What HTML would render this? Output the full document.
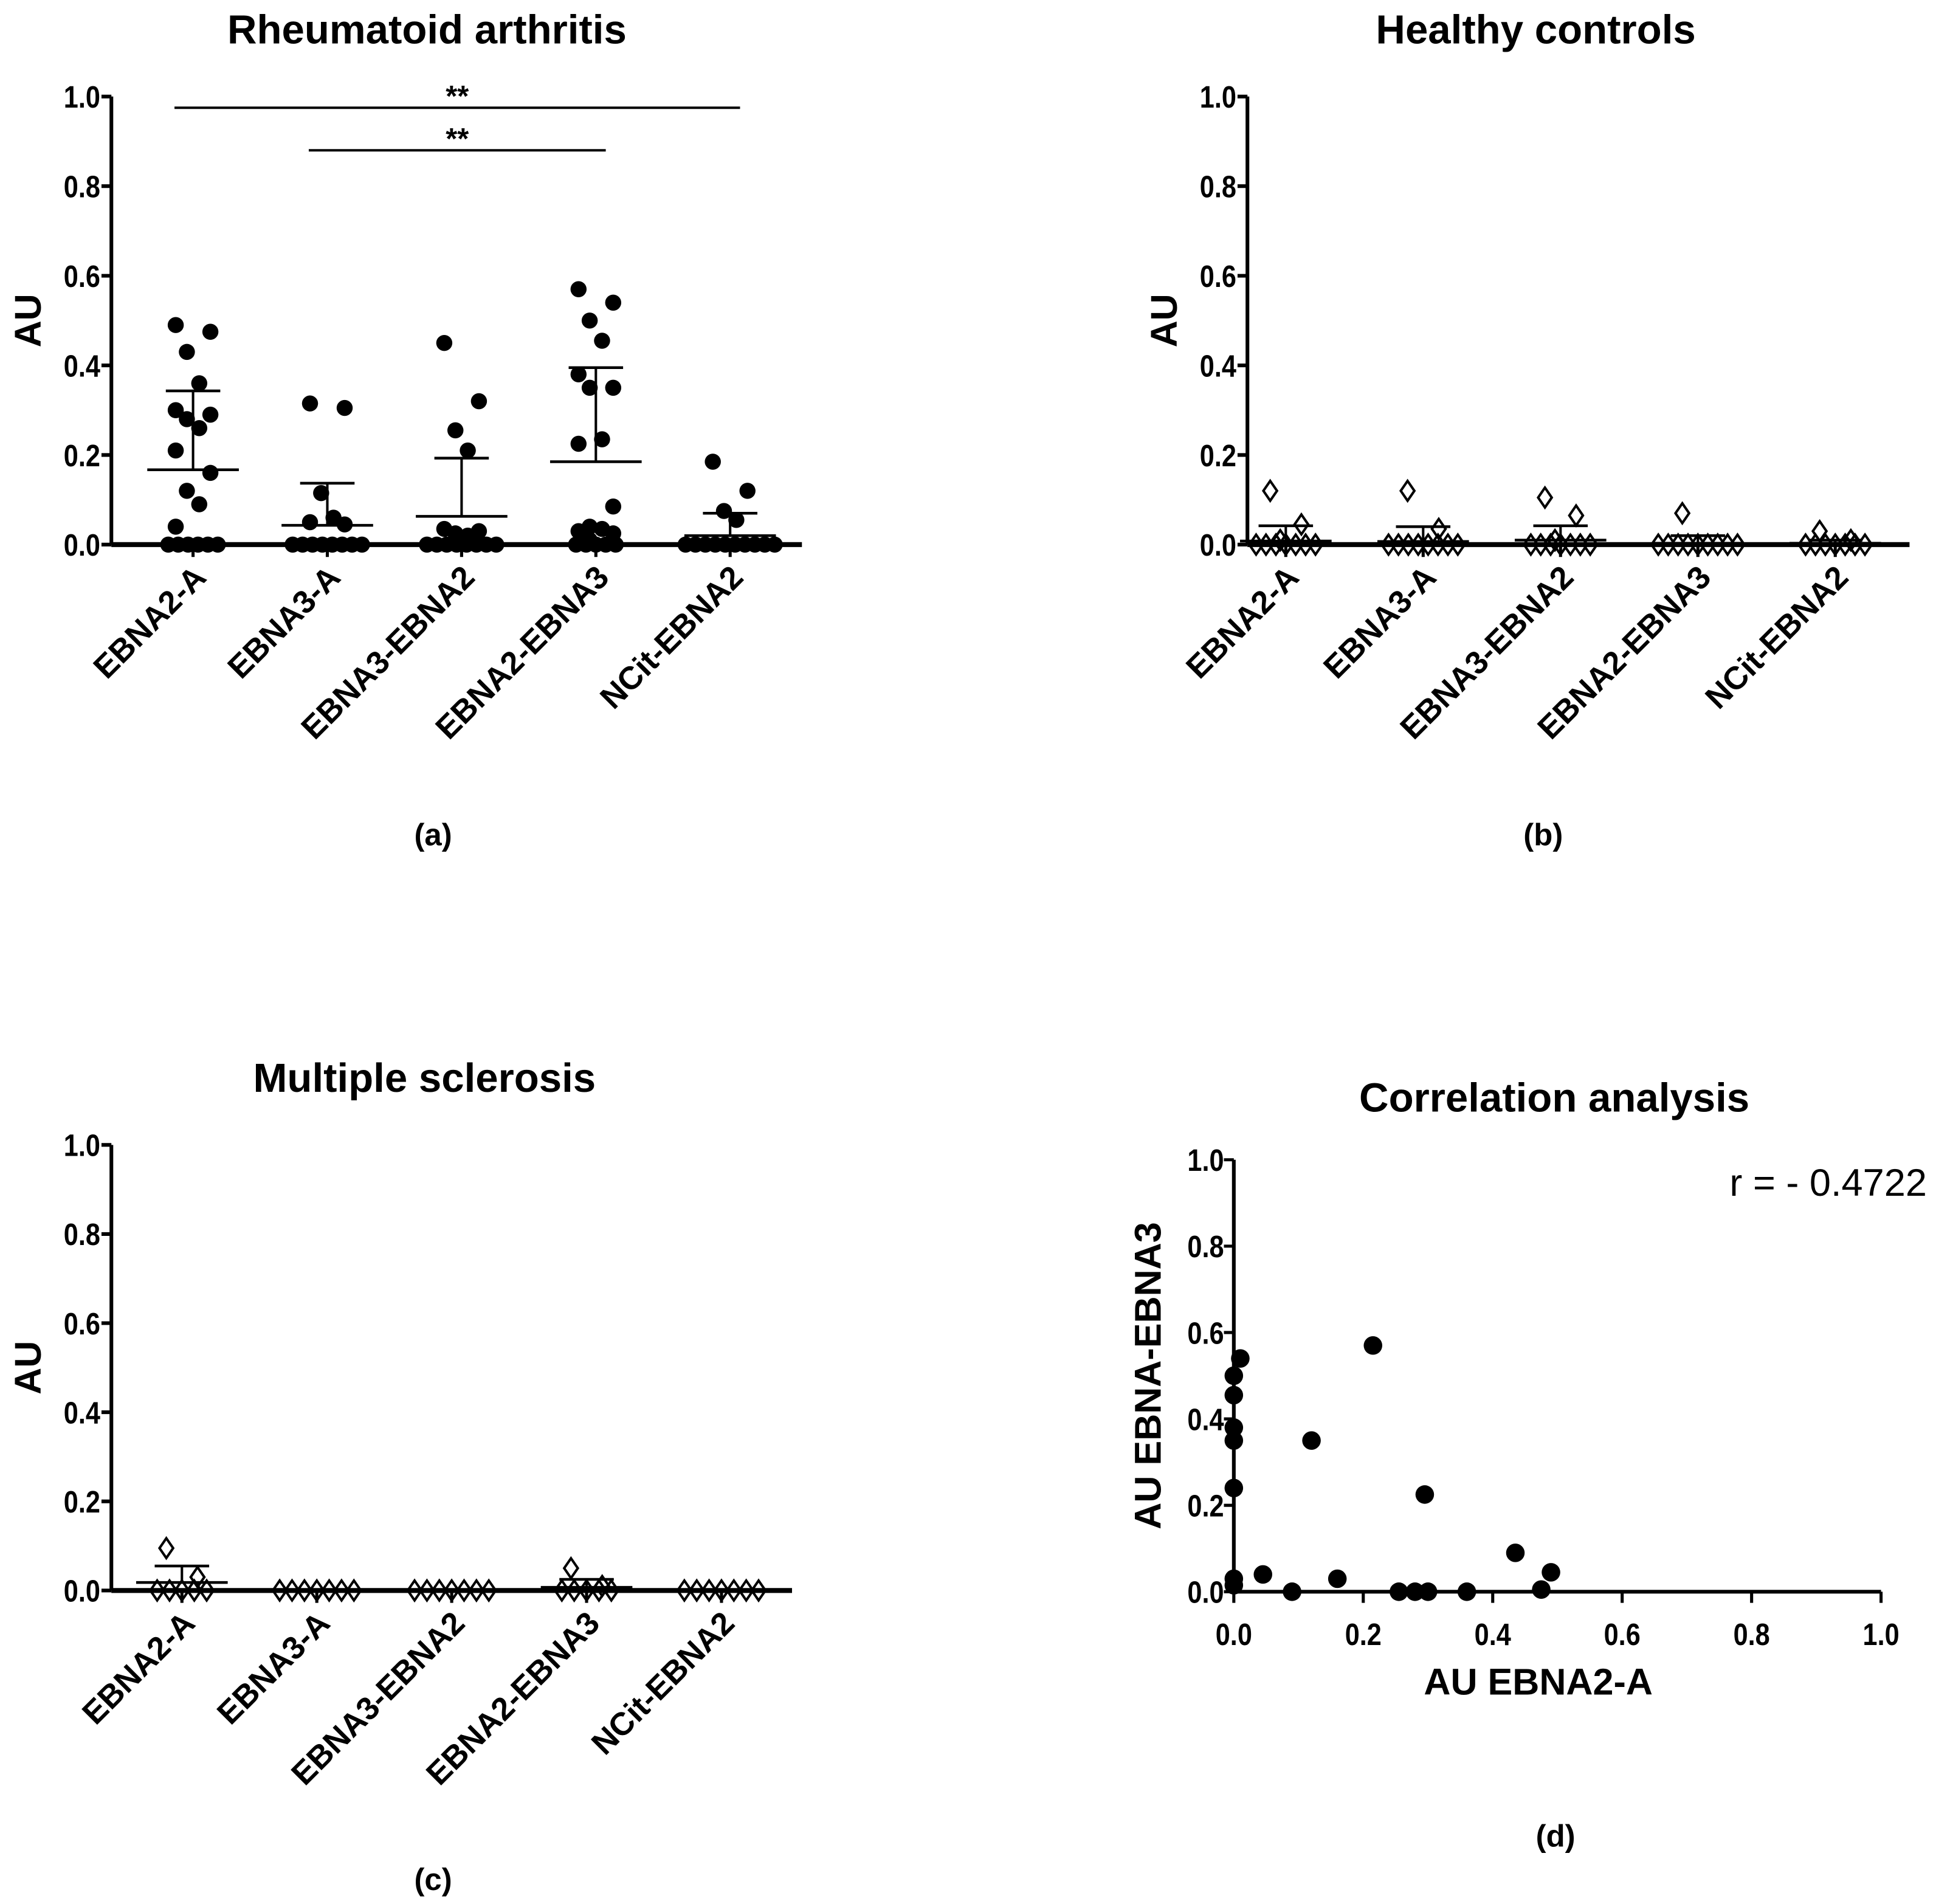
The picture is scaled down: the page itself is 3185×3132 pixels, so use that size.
<!DOCTYPE html>
<html><head><meta charset="utf-8">
<style>
html,body{margin:0;padding:0;background:#fff;}
svg{display:block;}
text{font-family:"Liberation Sans",Arial,sans-serif;font-weight:bold;fill:#000;}
</style></head>
<body>
<svg id="fig" xmlns="http://www.w3.org/2000/svg" width="3185" height="3132" viewBox="0 0 1564.4 1538.3" preserveAspectRatio="none">
</svg>
<script>
const categories = ["EBNA2-A","EBNA3-A","EBNA3-EBNA2","EBNA2-EBNA3","NCit-EBNA2"];
const yTicks = [0.0,0.2,0.4,0.6,0.8,1.0];
const yTickLabels = ["0.0","0.2","0.4","0.6","0.8","1.0"];
// Panel a: rheumatoid arthritis
const raValues = [
 [0.49,0.475,0.43,0.36,0.30,0.29,0.28,0.26,0.21,0.16,0.12,0.09,0.04,0,0,0,0,0,0],
 [0.315,0.305,0.115,0.06,0.05,0.045,0,0,0,0,0,0,0,0],
 [0.45,0.32,0.255,0.21,0.035,0.03,0.025,0.02,0,0,0,0,0,0,0,0],
 [0.57,0.54,0.50,0.455,0.38,0.35,0.35,0.235,0.225,0.085,0.04,0.035,0.03,0.025,0.01,0,0,0,0,0],
 [0.185,0.12,0.075,0.055,0,0,0,0,0,0,0,0,0,0]
];
const raMeans = [0.167,0.043,0.063,0.185,0.02];
const raUpper = [0.343,0.137,0.193,0.395,0.07];
const raSig = [[0,4,0.975],[1,3,0.88]];
// Panel b: healthy controls
const hcValues = [
 [0.12,0.045,0.01,0,0,0,0,0,0,0],
 [0.12,0.035,0,0,0,0,0,0,0,0],
 [0.105,0.065,0.01,0,0,0,0,0,0,0],
 [0.07,0,0,0,0,0,0,0,0,0],
 [0.03,0.01,0,0,0,0,0,0,0]
];
const hcMeans = [0.008,0.007,0.01,0.003,0.003];
const hcUpper = [0.042,0.04,0.042,0.02,0.01];
// Panel c: multiple sclerosis
const msValues = [
 [0.095,0.03,0,0,0,0,0],
 [0,0,0,0,0,0,0],
 [0,0,0,0,0,0,0],
 [0.05,0.01,0,0,0,0,0],
 [0,0,0,0,0,0,0]
];
const msMeans = [0.018,0,0,0.007,0];
const msUpper = [0.055,0,0,0.025,0];
// Panel d: correlation
const corrX = [0,0.01,0,0,0,0,0,0,0.045,0.09,0.12,0.16,0.215,0.255,0.28,0.30,0.295,0.36,0.435,0.475,0.49];
const corrY = [0.50,0.54,0.455,0.38,0.35,0.24,0.03,0.015,0.04,0,0.35,0.03,0.57,0,0,0,0.225,0,0.09,0.005,0.045];
const corrXTicks = ["0.0","0.2","0.4","0.6","0.8","1.0"];

const NS="http://www.w3.org/2000/svg";
const svg=document.getElementById('fig');
function el(tag,attrs,parent){const e=document.createElementNS(NS,tag);for(const k in attrs)e.setAttribute(k,attrs[k]);(parent||svg).appendChild(e);return e;}
function txt(s,attrs,parent){const t=el('text',attrs,parent);t.textContent=s;return t;}

function dotPanel(cfg){
  const g=el('g',{});
  
  
  const X0=cfg.x0,X1=cfg.x1,Y0=cfg.y0,Y1=cfg.y1;
  const ys=v=>Y0-(Y0-Y1)*v;
  const xs=i=>cfg.cx0+i*cfg.step;
  const t=txt(cfg.title,{x:cfg.titleX,y:cfg.titleY,'font-size':33,'text-anchor':'middle'},g);
  
  
  const ya=el('line',{x1:X0,y1:Y1,x2:X0,y2:Y0,stroke:'#000','stroke-width':3},g);
  
  
  yTicks.forEach((v,i)=>{
    el('line',{x1:X0-8,y1:ys(v),x2:X0,y2:ys(v),stroke:'#000','stroke-width':3},g);
    const tl=txt(yTickLabels[i],{x:X0-9,y:ys(v)+9,'font-size':25,'text-anchor':'end',transform:`translate(${X0-9},${ys(v)}) scale(0.85,1) translate(${-(X0-9)},${-ys(v)})`},g);
    
    
  });
  const yl=txt('AU',{x:0,y:0,'font-size':30,'text-anchor':'middle',transform:`translate(${X0-57},${(Y0+Y1)/2}) rotate(-90)`},g);
  
  
  const xa=el('line',{x1:X0,y1:Y0,x2:X1,y2:Y0,stroke:'#000','stroke-width':4},g);
  
  
  categories.forEach((c,i)=>{
    el('line',{x1:xs(i),y1:Y0,x2:xs(i),y2:Y0+10,stroke:'#000','stroke-width':2.5},g);
    const cl=txt(c,{x:0,y:0,'font-size':26,'text-anchor':'end',transform:`translate(${xs(i)+12},${Y0+28}) rotate(-45)`},g);
    
    
  });
  cfg.values.forEach((arr,i)=>{
    const cx=xs(i);
    const zeros=arr.filter(v=>v===0).length;
    let zi=0,ni=0;
    arr.forEach(v=>{
      let dx;
      if(v===0){dx=(zi-(zeros-1)/2)*cfg.zeroSpread;zi++;}
      else{const k=ni%4;dx=[-14,14,-5,5][k]*(cfg.open?0.9:1);ni++;}
      const px=cx+dx,py=ys(v);
      let m;
      if(cfg.open){m=el('path',{d:`M${px},${py-8} L${px+5.5},${py} L${px},${py+8} L${px-5.5},${py} Z`,fill:'none',stroke:'#000','stroke-width':2},g);}
      else{m=el('circle',{cx:px,cy:py,r:6.5,fill:'#000'},g);}
      
      
    });
    const mean=cfg.means[i],up=cfg.upper[i];
    const ml=el('line',{x1:cx-37,y1:ys(mean),x2:cx+37,y2:ys(mean),stroke:'#000','stroke-width':2.2},g);
    
    
    if(up>mean){
      el('line',{x1:cx,y1:ys(mean),x2:cx,y2:ys(up),stroke:'#000','stroke-width':2},g);
      const cap=el('line',{x1:cx-22,y1:ys(up),x2:cx+22,y2:ys(up),stroke:'#000','stroke-width':2.2},g);
      
      
    }
  });
  (cfg.sig||[]).forEach(s=>{
    const a=xs(s[0])-15,b=xs(s[1])+8,y=ys(s[2]);
    const l=el('line',{x1:a,y1:y,x2:b,y2:y,stroke:'#000','stroke-width':2},g);
    
    
    const st=txt('**',{x:(a+b)/2,y:y-1,'font-size':24,'text-anchor':'middle'},g);
    
    
  });
  const lt=txt(cfg.letter,{x:cfg.letterX,y:cfg.letterY,'font-size':25,'text-anchor':'middle'},g);
  
  
}

dotPanel({name:'panel-a-rheumatoid-arthritis',title:'Rheumatoid arthritis',titleX:345,titleY:35,x0:90,x1:648,y0:440,y1:78,cx0:156,step:108.5,values:raValues,means:raMeans,upper:raUpper,sig:raSig,open:false,zeroSpread:8,letter:'(a)',letterX:350,letterY:683});
dotPanel({name:'panel-b-healthy-controls',title:'Healthy controls',titleX:1241,titleY:35,x0:1008,x1:1543,y0:440,y1:78,cx0:1039,step:111,values:hcValues,means:hcMeans,upper:hcUpper,open:true,zeroSpread:8,letter:'(b)',letterX:1247,letterY:683});
dotPanel({name:'panel-c-multiple-sclerosis',title:'Multiple sclerosis',titleX:343,titleY:882,x0:90,x1:640,y0:1285,y1:925,cx0:147,step:109,values:msValues,means:msMeans,upper:msUpper,open:true,zeroSpread:10,letter:'(c)',letterX:350,letterY:1527});

(function(){
  const g=el('g',{});
  
  
  const X0=997,X1=1520,Y0=1286,Y1=937;
  const xs=v=>X0+(X1-X0)*v, ys=v=>Y0-(Y0-Y1)*v;
  const t=txt('Correlation analysis',{x:1256,y:898,'font-size':33,'text-anchor':'middle'},g);
  
  
  const ya=el('line',{x1:X0,y1:Y1,x2:X0,y2:Y0,stroke:'#000','stroke-width':3},g);
  
  
  const xa=el('line',{x1:X0,y1:Y0,x2:X1,y2:Y0,stroke:'#000','stroke-width':3},g);
  
  
  yTicks.forEach((v,i)=>{
    el('line',{x1:X0-8,y1:ys(v),x2:X0,y2:ys(v),stroke:'#000','stroke-width':2.5},g);
    const tl=txt(yTickLabels[i],{x:X0-8,y:ys(v)+9,'font-size':25,'text-anchor':'end',transform:`translate(${X0-8},${ys(v)}) scale(0.85,1) translate(${-(X0-8)},${-ys(v)})`},g);
    
    
    el('line',{x1:xs(v),y1:Y0,x2:xs(v),y2:Y0+9,stroke:'#000','stroke-width':2.5},g);
    const xl=txt(corrXTicks[i],{x:xs(v),y:Y0+43,'font-size':25,'text-anchor':'middle',transform:`translate(${xs(v)},0) scale(0.85,1) translate(${-xs(v)},0)`},g);
    
    
  });
  const yt=txt('AU EBNA-EBNA3',{x:0,y:0,'font-size':30,'text-anchor':'middle',transform:`translate(938,${(Y0+Y1)/2}) rotate(-90)`},g);
  
  
  const xt=txt('AU EBNA2-A',{x:1243,y:1369,'font-size':30,'text-anchor':'middle'},g);
  
  
  const r=txt('r = - 0.4722',{x:1557,y:966,'font-size':31,'text-anchor':'end',style:'font-weight:normal'},g);
  
  
  corrX.forEach((xv,i)=>{
    const c=el('circle',{cx:xs(xv),cy:ys(corrY[i]),r:7.5,fill:'#000'},g);
    
    
  });
  const lt=txt('(d)',{x:1257,y:1492,'font-size':25,'text-anchor':'middle'},g);
  
  
})();
</script>
</body></html>
